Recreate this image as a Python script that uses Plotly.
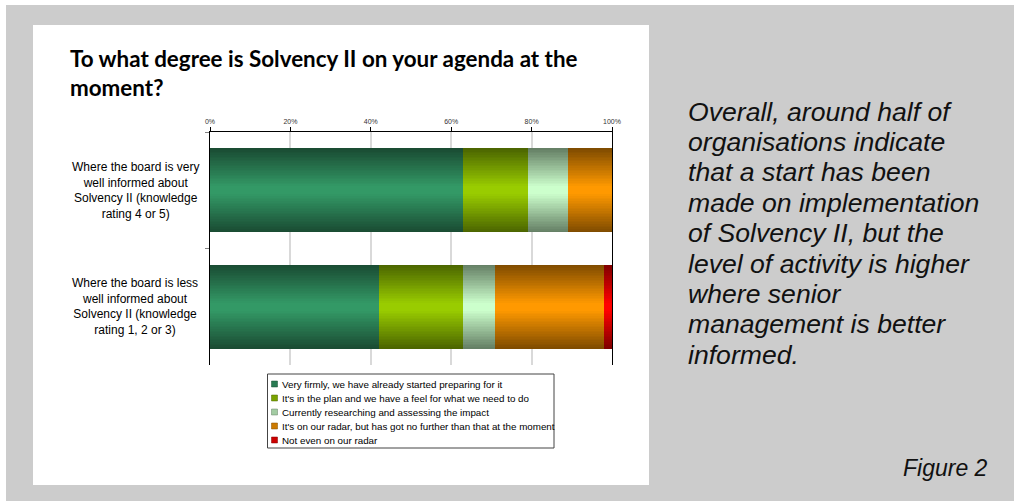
import plotly.graph_objects as go

# ---- data ---------------------------------------------------------------
categories = [
    "Where the board is very<br>well informed about<br>Solvency II (knowledge<br>rating 4 or 5)",
    "Where the board is less<br>well informed about<br>Solvency II (knowledge<br>rating 1, 2 or 3)",
]
series_names = [
    "Very firmly, we have already started preparing for it",
    "It's in the plan and we have a feel for what we need to do",
    "Currently researching and assessing the impact",
    "It's on our radar, but has got no further than that at the moment",
    "Not even on our radar",
]
very_firmly = [63, 42]
in_the_plan = [16, 21]
researching = [10, 8]
on_radar = [11, 27]
not_on_radar = [0, 2]
series_values = [very_firmly, in_the_plan, researching, on_radar, not_on_radar]

tick_values = [0, 20, 40, 60, 80, 100]
tick_labels = ["0%", "20%", "40%", "60%", "80%", "100%"]

title_text = "To what degree is Solvency II on your agenda at the<br>moment?"
comment_lines = [
    "Overall, around half of",
    "organisations indicate",
    "that a start has been",
    "made on implementation",
    "of Solvency II, but the",
    "level of activity is higher",
    "where senior",
    "management is better",
    "informed.",
]
figure_label = "Figure 2"

# ---- styling ------------------------------------------------------------
center_colors = ["#339966", "#99cc00", "#ccffcc", "#ff9900", "#ff0000"]
BAR_WIDTH = 0.72
N_LAYERS = 24
PLATEAU = 0.1

W, H = 1014, 501
M_L, M_R, M_T, M_B = 210, 402, 132, 136


def hex_rgb(h):
    h = h.lstrip("#")
    return [int(h[i:i + 2], 16) for i in (0, 2, 4)]


def mix(c1, c2, t):
    a, b = hex_rgb(c1), hex_rgb(c2)
    return "rgb({},{},{})".format(*[round(a[i] + (b[i] - a[i]) * t) for i in range(3)])


def darker(h, f=0.5):
    r, g, b = hex_rgb(h)
    return "#{:02x}{:02x}{:02x}".format(round(r * f), round(g * f), round(b * f))


# pixel -> paper coordinate helpers for layout decorations
def px_x(p):
    return (p - M_L) / (W - M_L - M_R)


def px_y(p):
    return (H - M_B - p) / (H - M_T - M_B)


fig = go.Figure()

# stacked segments: each segment is built from nested bars of shrinking
# width so the colour fades from a dark rim to a bright centre
bases = [0] * len(categories)
for name, vals, col in zip(series_names, series_values, center_colors):
    edge = darker(col)
    for k in range(N_LAYERS):
        frac = k / (N_LAYERS - 1)
        d = 1 - frac * (1 - PLATEAU)
        fig.add_trace(go.Bar(
            y=categories,
            x=vals,
            base=list(bases),
            orientation="h",
            width=BAR_WIDTH * d,
            marker=dict(color=mix(edge, col, frac), line=dict(width=0)),
            name=name,
            legendgroup=name,
            showlegend=False,
            hoverinfo="skip",
        ))
    bases = [b + v for b, v in zip(bases, vals)]

shapes = [
    # grey page and white chart panel
    dict(type="rect", xref="paper", yref="paper", layer="below",
         x0=px_x(6), x1=px_x(W + 5), y0=px_y(5), y1=px_y(H + 5),
         fillcolor="#cccccc", line=dict(width=0)),
    dict(type="rect", xref="paper", yref="paper", layer="below",
         x0=px_x(33), x1=px_x(649), y0=px_y(25), y1=px_y(485),
         fillcolor="#ffffff", line=dict(width=0)),
    # legend frame
    dict(type="rect", xref="paper", yref="paper",
         x0=px_x(267.5), x1=px_x(554), y0=px_y(374), y1=px_y(448),
         fillcolor="#ffffff", line=dict(color="#444444", width=1)),
]

annotations = []
# category labels, centred to the left of the bars
for cat in categories:
    annotations.append(dict(
        text=cat, xref="paper", yref="y", x=px_x(135), y=cat,
        xanchor="center", yanchor="middle", align="center", showarrow=False,
        font=dict(family="Liberation Sans, Arial", size=12, color="#000000"),
    ))

# legend entries
legend_y0, legend_step = 384, 14
for i, (name, col) in enumerate(zip(series_names, center_colors)):
    cy = legend_y0 + i * legend_step
    shapes.append(dict(
        type="rect", xref="paper", yref="paper",
        x0=px_x(271.5), x1=px_x(277.5), y0=px_y(cy + 3), y1=px_y(cy - 3),
        fillcolor=mix(darker(col), col, 0.6), line=dict(color=darker(col), width=0.5),
    ))
    annotations.append(dict(
        text=name, xref="paper", yref="paper", x=px_x(280), y=px_y(cy),
        xanchor="left", yanchor="middle", showarrow=False,
        font=dict(family="Liberation Sans, Arial", size=9.8, color="#000000"),
    ))

# commentary text on the right
for i, line in enumerate(comment_lines):
    annotations.append(dict(
        text=line, xref="paper", yref="paper", x=px_x(686), y=px_y(111.5 + i * 30.4),
        xanchor="left", yanchor="middle", showarrow=False,
        font=dict(family="Liberation Sans, Arial", size=26.6, color="#111111",
                  style="italic"),
    ))
annotations.append(dict(
    text=figure_label, xref="paper", yref="paper", x=px_x(990), y=px_y(468),
    xanchor="right", yanchor="middle", showarrow=False,
    font=dict(family="Liberation Sans, Arial", size=23, color="#111111", style="italic"),
))

fig.update_layout(
    width=W, height=H, autosize=False,
    margin=dict(l=M_L, r=M_R, t=M_T, b=M_B, autoexpand=False),
    paper_bgcolor="#ffffff", plot_bgcolor="#ffffff",
    barmode="overlay", bargap=0,
    showlegend=False,
    title=dict(
        text="<b>" + title_text + "</b>",
        xref="container", yref="container", x=70 / W, xanchor="left",
        y=1 - 67 / H, yanchor="top",
        font=dict(family="Lato, Open Sans", size=22.4, color="#000000"),
    ),
    xaxis=dict(
        side="top", range=[0, 100], tickvals=tick_values, ticktext=tick_labels,
        showgrid=True, gridcolor="#d9d9d9", gridwidth=1.5, zeroline=False,
        showline=True, linecolor="#000000", linewidth=1,
        ticks="outside", ticklen=4, tickcolor="#000000",
        tickfont=dict(family="Liberation Sans, Arial", size=7, color="#333333"),
    ),
    yaxis=dict(
        type="category", categoryorder="array", categoryarray=categories,
        range=[1.5, -0.5], showticklabels=False,
        showgrid=False, zeroline=False,
        showline=True, mirror=True, linecolor="#000000", linewidth=1,
        ticks="outside", tickson="boundaries", ticklen=4, tickcolor="#808080",
    ),
    shapes=shapes,
    annotations=annotations,
)

fig.write_html("out.html")
